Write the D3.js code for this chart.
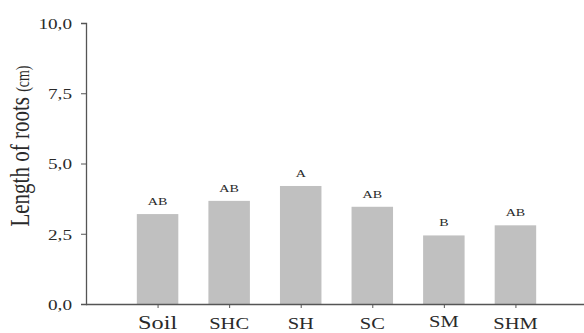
<!DOCTYPE html>
<html>
<head>
<meta charset="utf-8">
<script src="https://cdn.jsdelivr.net/npm/d3@7"></script>
<style>
  body { margin: 0; background: #fff; }
  text { font-family: "Liberation Serif", "DejaVu Serif", serif; fill: #2a2a2a; }
</style>
</head>
<body>
<script>
var categories = ["Soil", "SHC", "SH", "SC", "SM", "SHM"];
var values = [3.2, 3.67, 4.2, 3.46, 2.44, 2.8];
var letters = ["AB", "AB", "A", "AB", "B", "AB"];
var yTicks = [0, 2.5, 5, 7.5, 10];

var width = 584, height = 333;
var sx = 1.28; // the picture is stretched sideways

var svg = d3.select("body").append("svg")
  .attr("width", width)
  .attr("height", height);

var x = d3.scalePoint()
  .domain(categories)
  .range([86, 587])
  .padding(1);

var y = d3.scaleLinear()
  .domain([0, 10])
  .range([304, 23]);

var barW = 41.5;

// bars
svg.append("g").selectAll("rect")
  .data(values)
  .enter().append("rect")
  .attr("x", function(d, i) { return x(categories[i]) - barW / 2; })
  .attr("y", function(d) { return y(d); })
  .attr("width", barW)
  .attr("height", function(d) { return y(0) - y(d); })
  .style("fill", "#c0c0c0");

// letters above bars
svg.append("g").selectAll("text")
  .data(values)
  .enter().append("text")
  .attr("transform", function(d, i) {
    return "translate(" + x(categories[i]) + "," + (y(d) - 9) + ") scale(" + sx + ",1)";
  })
  .attr("text-anchor", "middle")
  .style("font-size", "11px")
  .text(function(d, i) { return letters[i]; });

// y axis
var yAxis = d3.axisLeft(y)
  .tickValues(yTicks)
  .tickSize(5)
  .tickFormat(function(d) { return d3.format(".1f")(d).replace(".", ","); });

var gy = svg.append("g")
  .attr("transform", "translate(86,0)")
  .call(yAxis);
gy.select(".domain").attr("stroke", "#555").attr("stroke-width", 1.3);
gy.selectAll(".tick line").attr("stroke", "#555");
gy.selectAll(".tick text")
  .attr("x", 0)
  .attr("dy", "0.35em")
  .attr("transform", "translate(-14,0) scale(" + sx + ",1)")
  .style("font-size", "15px")
  .style("font-family", "Liberation Serif, serif")
  .attr("fill", "#2a2a2a");

// x axis
var xAxis = d3.axisBottom(x)
  .tickSize(4)
  .tickSizeOuter(0)
  .tickFormat("");
var gx = svg.append("g")
  .attr("transform", "translate(0,304)")
  .call(xAxis);
gx.select(".domain").attr("d", "M86,0.5H584").attr("stroke", "#555").attr("stroke-width", 1.3);
gx.selectAll(".tick line").attr("stroke", "#555");

// category labels
svg.append("g").selectAll("text")
  .data(categories)
  .enter().append("text")
  .attr("transform", function(d) {
    var base = d === "SM" ? 327 : 329;
    return "translate(" + x(d) + "," + base + ") scale(" + sx + ",1)";
  })
  .attr("text-anchor", "middle")
  .style("font-size", function(d) { return d === "Soil" ? "19px" : "16px"; })
  .text(function(d) { return d; });

// y title
var title = svg.append("text")
  .attr("transform", "translate(29,146) scale(" + sx + ",1) rotate(-90)")
  .attr("text-anchor", "middle")
  .style("font-size", "21px");
title.append("tspan").text("Length of roots ");
title.append("tspan").style("font-size", "14px").text("(cm)");
</script>
</body>
</html>
